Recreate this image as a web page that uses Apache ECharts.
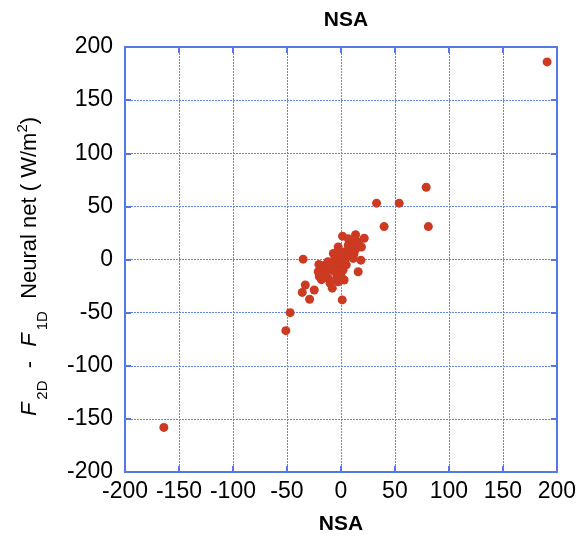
<!DOCTYPE html>
<html><head><meta charset="utf-8">
<script src="https://cdn.jsdelivr.net/npm/echarts@6/dist/echarts.min.js"></script>
<style>html,body{margin:0;padding:0;background:#fff}#c{width:579px;height:540px}</style>
</head><body><div id="c"></div>
<script>
const nsaX = [191, -164, -47, -51, 79, 54, 33, 40, 81,
  1.5, 13.6, 21.6, 19, 18.5, 16, -35, -20.4, -21, -18, -33, -35.8, -24.7, -29, 1.2, -8, 3, -2.5, -11.7,
  6.8, 9.9, 13, -2.5, -5.6, -8.6, -13.3, 0.6, 3.7, 8.3, -1, -5.6, 3.7, 2, -18, -15, 6.8, 16, 11.4, -4, -10,
  -7, -2.5, 5, 10, 15, -10, -12, 0, 2, -3, -6, -16, 5, 12, -20, 0];
const nnY = [186, -158, -50, -67, 68, 53, 53, 31, 31,
  22, 23.4, 20, 11.8, -0.6, -11.5, 0.3, -4.7, -11.5, -19, -24, -31, -28.7, -37.4, -38, -27, -19.3, -21, -17.8,
  13.4, 16.5, 8.7, 7.2, 1, -5.3, -11.5, 1, 7.2, 4, -5.3, -11.5, -2.2, -10, -8.4, -5.3, 19.6, 16.5, 1, -17.8, -22.4,
  5.6, 11.8, 3, 10, 12, -10, -2, -3, 4, -2, -8, -14, -5, 5, -16, -15];
const axisMin = -200, axisMax = 200, axisStep = 50;
const titleText = 'NSA';
const xName = 'NSA';

const pts = nsaX.map((x, i) => [x, nnY[i]]);
const blue = '#5478e6';
const gridBlue = '#6284ee';
const font = 'Liberation Sans, Arial, Helvetica, sans-serif';
const baseAxis = {
  type: 'value', min: axisMin, max: axisMax, interval: axisStep,
  axisLine: { show: true, onZero: false, lineStyle: { color: blue, width: 2 } },
  axisTick: { show: true, inside: true, length: 6, lineStyle: { color: blue, width: 2 } },
  splitLine: { show: false },
  axisLabel: { show: false }
};
const chart = echarts.init(document.getElementById('c'), null, { renderer: 'canvas' });
chart.setOption({
  animation: false,
  title: {
    text: titleText, left: 341, top: 5, textAlign: 'center',
    textStyle: { fontFamily: font, fontWeight: 'bold', fontSize: 21, color: '#000' }
  },
  grid: { left: 125, top: 47, width: 432, height: 428, containLabel: false },
  xAxis: [
    Object.assign({}, baseAxis, {
      position: 'bottom',
      splitLine: { show: true, lineStyle: { color: gridBlue, type: [2, 1], width: 1 } },
      axisLabel: { show: true, margin: 8, color: '#000', fontFamily: font, fontSize: 23 },
      name: xName, nameLocation: 'middle', nameGap: 42,
      nameTextStyle: { fontFamily: font, fontWeight: 'bold', fontSize: 21, color: '#000' }
    }),
    Object.assign({}, baseAxis, { position: 'top' })
  ],
  yAxis: [
    Object.assign({}, baseAxis, {
      position: 'left',
      splitLine: { show: true, lineStyle: { color: gridBlue, type: [2, 1], width: 1 } },
      axisLabel: { show: true, margin: 12, color: '#000', fontFamily: font, fontSize: 23, padding: [0, 0, 7, 0] },
      name: '{fi|F}{sub|2D}{n|  -  }{fi|F}{sub|1D}{n|  Neural net ( W/m}{sup|2}{n|)}',
      nameLocation: 'middle', nameRotate: 90, nameGap: 75,
      nameTextStyle: {
        fontFamily: font, fontSize: 22, color: '#000', padding: [0, 16, 0, 0],
        rich: {
          fi: { fontFamily: font, fontSize: 22, fontStyle: 'italic', color: '#000', padding: [0, 3, 0, 2] },
          n: { fontFamily: font, fontSize: 22, color: '#000' },
          sub: { fontFamily: font, fontSize: 15, color: '#000', padding: [26, 0, 0, 0] },
          sup: { fontFamily: font, fontSize: 15, color: '#000', padding: [0, 0, 14, 0] }
        }
      }
    }),
    Object.assign({}, baseAxis, { position: 'right' })
  ],
  series: [{
    type: 'scatter', xAxisIndex: 0, yAxisIndex: 0,
    data: pts, symbol: 'circle', symbolSize: 9,
    itemStyle: { color: '#cc3a22', opacity: 1 }
  }]
});
</script></body></html>
